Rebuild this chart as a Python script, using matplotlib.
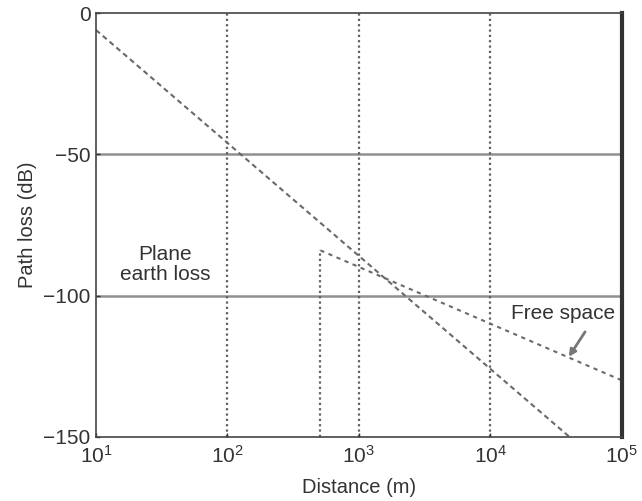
import numpy as np
import matplotlib
matplotlib.use("Agg")
import matplotlib.pyplot as plt

plt.rcParams['font.family'] = ['Liberation Sans', 'DejaVu Sans']
plt.rcParams['mathtext.fontset'] = 'custom'
plt.rcParams['mathtext.rm'] = 'Liberation Sans'
plt.rcParams['mathtext.it'] = 'Liberation Sans'

# Data
steep_x = [10, 40000]          # 40 dB/decade line
steep_y = [-6, -150]
free_x = [510, 510, 100000]    # free space curve
free_y = [-150, -84, -130]
vgrid_x = [100, 1000, 10000]
hgrid_y = [-50, -100]
xticks = [10, 100, 1000, 10000, 100000]
xticklabels = [r'$\mathregular{10^{1}}$', r'$\mathregular{10^{2}}$', r'$\mathregular{10^{3}}$',
               r'$\mathregular{10^{4}}$', r'$\mathregular{10^{5}}$']
yticks = [0, -50, -100, -150]
yticklabels = ['0', '\u221250', '\u2212100', '\u2212150']

fig = plt.figure(figsize=(6.42, 5.01), dpi=100)
ax = fig.add_axes([0.1495, 0.128, 0.819, 0.846])
ax.set_xscale('log')
ax.set_xlim(10, 1e5)
ax.set_ylim(-150, 0)

for y in hgrid_y:
    ax.axhline(y, color='#909090', lw=1.8, zorder=1)
for x in vgrid_x:
    ax.axvline(x, color='#606060', lw=1.6, ls=(0, (1, 1.4)), zorder=1)

ax.plot(steep_x, steep_y, color='#6a6a6a', lw=1.5, ls=(0, (2.5, 1.8)), zorder=2)
ax.plot(free_x[:2], free_y[:2], color='#606060', lw=1.6, ls=(0, (1, 1.4)), zorder=2)
ax.plot(free_x[1:], free_y[1:], color='#6a6a6a', lw=1.5, ls=(0, (2, 2.2)), zorder=2)

ax.text(33.6, -89, 'Plane\nearth loss', ha='center', va='center', fontsize=15,
        color='#333333', linespacing=1.1)
ax.text(35500, -106.5, 'Free space', ha='center', va='center', fontsize=15, color='#333333')
ax.annotate('', xy=(38500, -122.5), xytext=(54000, -112),
            arrowprops=dict(arrowstyle='-|>', color='#777777', lw=2, mutation_scale=10))

ax.set_xticks(xticks)
ax.set_xticklabels(xticklabels)
ax.minorticks_off()
ax.set_yticks(yticks)
ax.set_yticklabels(yticklabels)
ax.tick_params(axis='both', labelsize=15, colors='#333333', direction='in', length=3, width=1)
ax.tick_params(axis='x', pad=6)
ax.tick_params(axis='y', pad=4)
ax.set_xlabel('Distance (m)', fontsize=14.5, color='#333333', labelpad=8)
ax.set_ylabel('Path loss (dB)', fontsize=14.5, color='#333333', labelpad=4)

for s in ['left', 'top', 'bottom']:
    ax.spines[s].set_color('#444444')
    ax.spines[s].set_linewidth(1.2)
ax.spines['right'].set_color('#333333')
ax.spines['right'].set_linewidth(3)

fig.savefig('out.png', dpi=100)
